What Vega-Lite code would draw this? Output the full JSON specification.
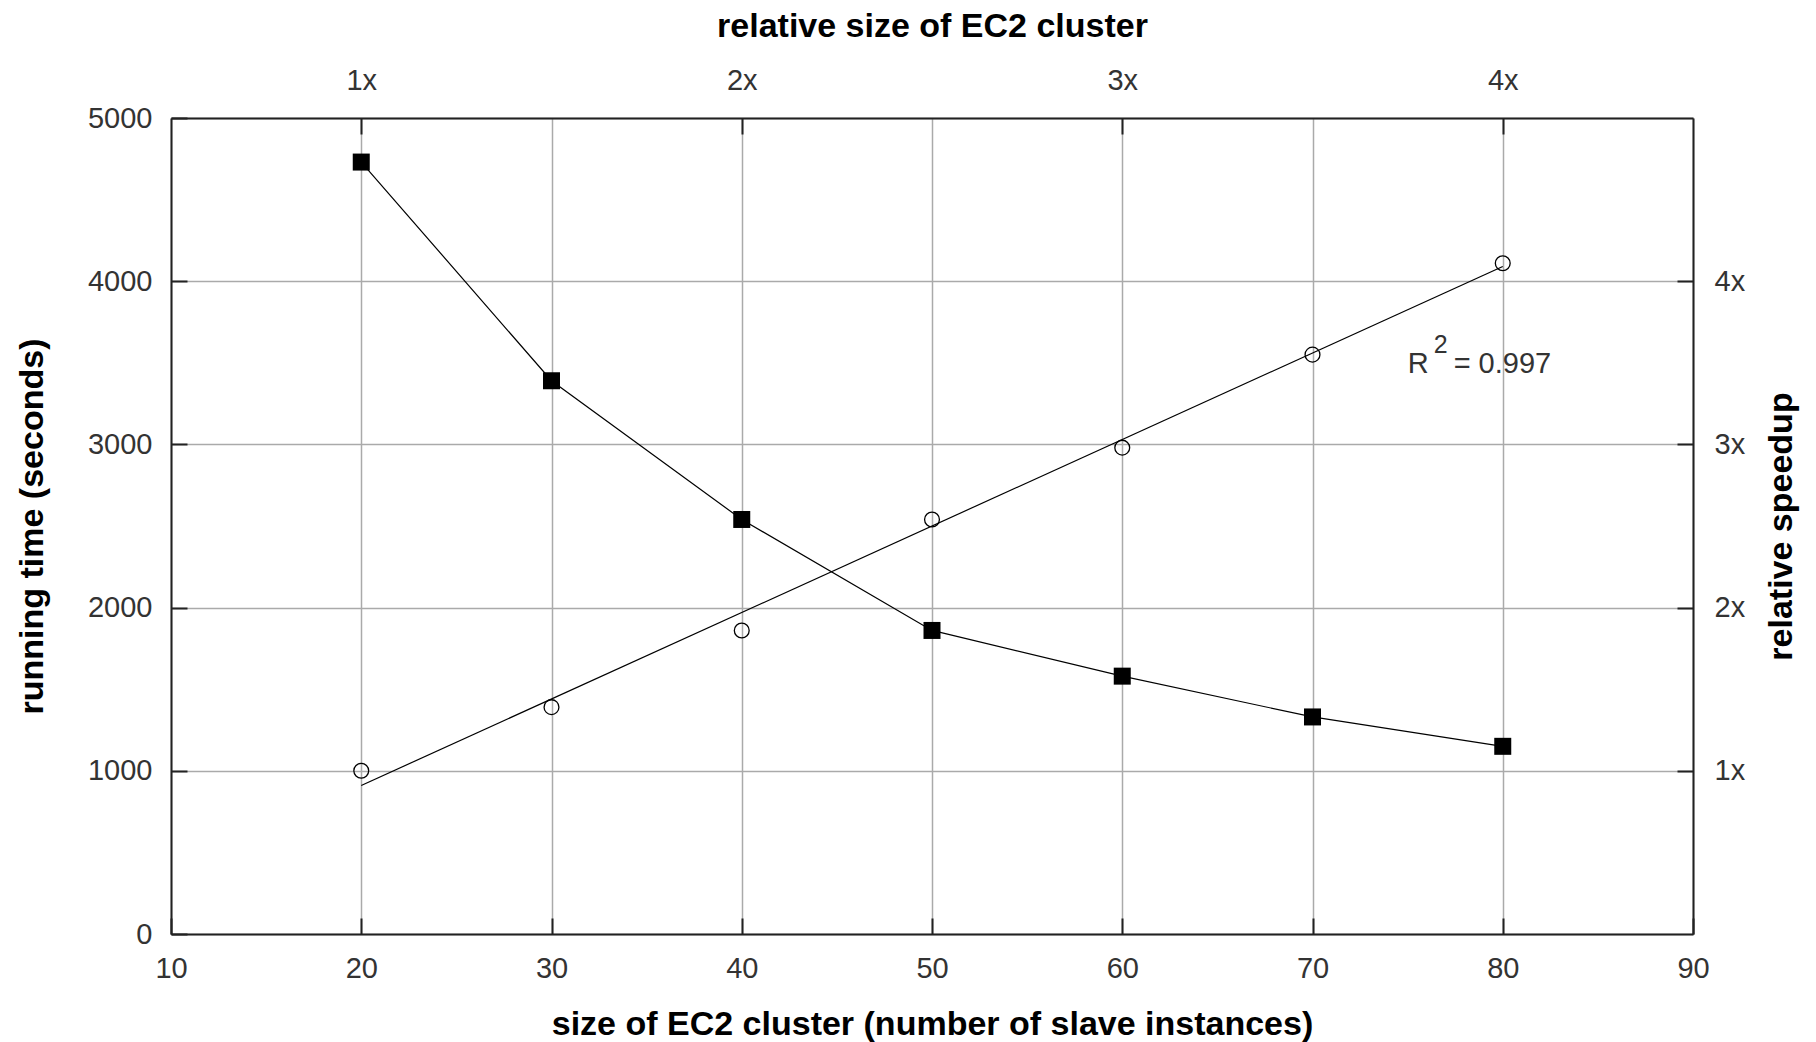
{
  "$schema": "https://vega.github.io/schema/vega-lite/v6.json",
  "width": 1522,
  "height": 816,
  "autosize": {"type": "none"},
  "padding": {"left": 171, "top": 118, "right": 123, "bottom": 108},
  "background": "white",
  "config": {
    "view": {"stroke": null},
    "font": "Liberation Sans",
    "axis": {
      "labelFont": "Liberation Sans",
      "labelFontSize": 29,
      "labelColor": "#333333",
      "titleFont": "Liberation Sans",
      "titleFontSize": 34,
      "titleFontWeight": "bold",
      "titleColor": "#000000",
      "domainColor": "#222222",
      "domainWidth": 2,
      "tickColor": "#222222",
      "tickWidth": 2,
      "tickSize": -16,
      "gridColor": "#aaaaaa",
      "gridWidth": 1.5,
      "gridOpacity": 1,
      "labelFlush": false,
      "labelOverlap": false
    }
  },
  "datasets": {
    "runs": [
      {"size": 20, "time": 4730, "speedup": 1.00},
      {"size": 30, "time": 3390, "speedup": 1.39},
      {"size": 40, "time": 2540, "speedup": 1.86},
      {"size": 50, "time": 1860, "speedup": 2.54},
      {"size": 60, "time": 1580, "speedup": 2.98},
      {"size": 70, "time": 1330, "speedup": 3.55},
      {"size": 80, "time": 1150, "speedup": 4.11}
    ],
    "fit": [
      {"size": 20, "speedup": 0.91},
      {"size": 80, "speedup": 4.09}
    ],
    "note": [
      {"size": 75, "speedup": 3.44, "base": "R", "sup": "2", "rest": "= 0.997"}
    ]
  },
  "layer": [
    {
      "data": {"name": "runs"},
      "encoding": {
        "x": {
          "field": "size", "type": "quantitative",
          "scale": {"domain": [10, 90], "nice": false, "zero": false},
          "axis": {
            "orient": "bottom",
            "values": [10, 20, 30, 40, 50, 60, 70, 80, 90],
            "format": "d",
            "grid": true,
            "labelBaseline": "middle",
            "labelPadding": 50,
            "title": "size of EC2 cluster (number of slave instances)",
            "titleY": 90,
            "titleBaseline": "middle"
          }
        },
        "y": {
          "field": "time", "type": "quantitative",
          "scale": {"domain": [0, 5000], "nice": false},
          "axis": {
            "orient": "left",
            "values": [0, 1000, 2000, 3000, 4000, 5000],
            "format": "d",
            "grid": true,
            "labelPadding": 35,
            "title": "running time (seconds)",
            "titleAngle": -90,
            "titleX": -139,
            "titleBaseline": "middle"
          }
        }
      },
      "layer": [
        {"mark": {"type": "line", "color": "#000000", "strokeWidth": 1.2}},
        {"mark": {"type": "point", "shape": "square", "filled": true, "color": "#000000", "size": 289, "opacity": 1}}
      ]
    },
    {
      "encoding": {
        "x": {
          "field": "size", "type": "quantitative",
          "scale": {"domain": [10, 90], "nice": false, "zero": false},
          "axis": {
            "orient": "top",
            "values": [20, 40, 60, 80],
            "labelExpr": "datum.value / 20 + 'x'",
            "grid": false,
            "labelBaseline": "middle",
            "labelPadding": 54,
            "title": "relative size of EC2 cluster",
            "titleY": -92,
            "titleBaseline": "middle"
          }
        },
        "y": {
          "field": "speedup", "type": "quantitative",
          "scale": {"domain": [0, 5], "nice": false},
          "axis": {
            "orient": "right",
            "values": [1, 2, 3, 4],
            "labelExpr": "datum.value + 'x'",
            "grid": false,
            "labelPadding": 37,
            "title": "relative speedup",
            "titleAngle": -90,
            "titleX": 88,
            "titleBaseline": "middle"
          }
        }
      },
      "layer": [
        {
          "data": {"name": "runs"},
          "mark": {"type": "point", "shape": "circle", "filled": false, "color": "#000000", "strokeWidth": 1.3, "size": 220, "opacity": 1}
        },
        {
          "data": {"name": "fit"},
          "mark": {"type": "line", "color": "#000000", "strokeWidth": 1.2}
        },
        {
          "data": {"name": "note"},
          "mark": {"type": "text", "align": "left", "baseline": "alphabetic", "font": "Liberation Sans", "fontSize": 29, "color": "#333333"},
          "encoding": {"text": {"field": "base", "type": "nominal"}}
        },
        {
          "data": {"name": "note"},
          "mark": {"type": "text", "align": "left", "baseline": "alphabetic", "dx": 26, "dy": -20, "font": "Liberation Sans", "fontSize": 25, "color": "#333333"},
          "encoding": {"text": {"field": "sup", "type": "nominal"}}
        },
        {
          "data": {"name": "note"},
          "mark": {"type": "text", "align": "left", "baseline": "alphabetic", "dx": 46, "font": "Liberation Sans", "fontSize": 29, "color": "#333333"},
          "encoding": {"text": {"field": "rest", "type": "nominal"}}
        }
      ]
    }
  ],
  "resolve": {"scale": {"y": "independent"}, "axis": {"x": "independent"}}
}
